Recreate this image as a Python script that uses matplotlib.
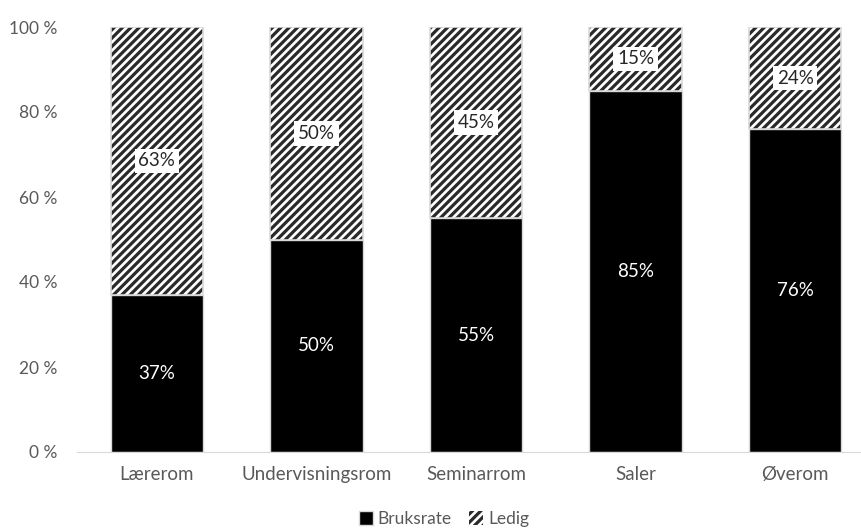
import matplotlib
matplotlib.use("Agg")
import matplotlib.pyplot as plt
import numpy as np

categories = ["Lærerom", "Undervisningsrom", "Seminarrom", "Saler", "Øverom"]
bruksrate = [37, 50, 55, 85, 76]
ledig = [63, 50, 45, 15, 24]
yticks = [0, 20, 40, 60, 80, 100]
ytick_labels = ["0 %", "20 %", "40 %", "60 %", "80 %", "100 %"]

plt.rcParams['font.family'] = ['Lato', 'DejaVu Sans']
plt.rcParams['hatch.linewidth'] = 2.3
plt.rcParams['hatch.color'] = '#2a2a2a'

fig = plt.figure(figsize=(8.61, 5.28), dpi=100)
ax = fig.add_axes([77/861, 1 - 452/528, 798/861, 425/528])

x = np.arange(len(categories))
w = 0.58
b1 = ax.bar(x, bruksrate, w, color='black', edgecolor='#d9d9d9', linewidth=1, label='Bruksrate')
b2 = ax.bar(x, ledig, w, bottom=bruksrate, color='white', edgecolor='#2a2a2a', hatch='////',
            linewidth=0, label='Ledig')
for rect in b2:
    ax.add_patch(plt.Rectangle((rect.get_x(), rect.get_y()), rect.get_width(), rect.get_height(),
                               fill=False, edgecolor='#d9d9d9', linewidth=1.2))

for i in range(len(categories)):
    ax.text(x[i], bruksrate[i] / 2, f"{bruksrate[i]}%", ha='center', va='center',
            color='white', fontsize=13.5)
    ax.text(x[i], bruksrate[i] + ledig[i] / 2, f"{ledig[i]}%", ha='center', va='center',
            color='#262626', fontsize=13.5,
            bbox=dict(boxstyle='square,pad=0.2', facecolor='white', edgecolor='none'))

ax.set_ylim(0, 100)
ax.set_xlim(-0.5, len(categories) - 0.5)
ax.set_yticks(yticks)
ax.set_yticklabels(ytick_labels)
ax.set_xticks(x)
ax.set_xticklabels(categories)
ax.tick_params(axis='both', length=0, colors='#595959')
ax.tick_params(axis='x', pad=10, labelsize=13.5)
ax.tick_params(axis='y', pad=14, labelsize=12.5)
for s in ['top', 'right', 'left']:
    ax.spines[s].set_visible(False)
ax.spines['bottom'].set_color('#d9d9d9')

leg = fig.legend(loc='center', bbox_to_anchor=(444/861, 1 - 519/528), ncol=2, frameon=False,
                 fontsize=12.5, handlelength=0.8, handleheight=0.8, columnspacing=1.0,
                 handletextpad=0.3, labelcolor='#595959', borderaxespad=0, borderpad=0)

fig.savefig("out.png", dpi=100)
